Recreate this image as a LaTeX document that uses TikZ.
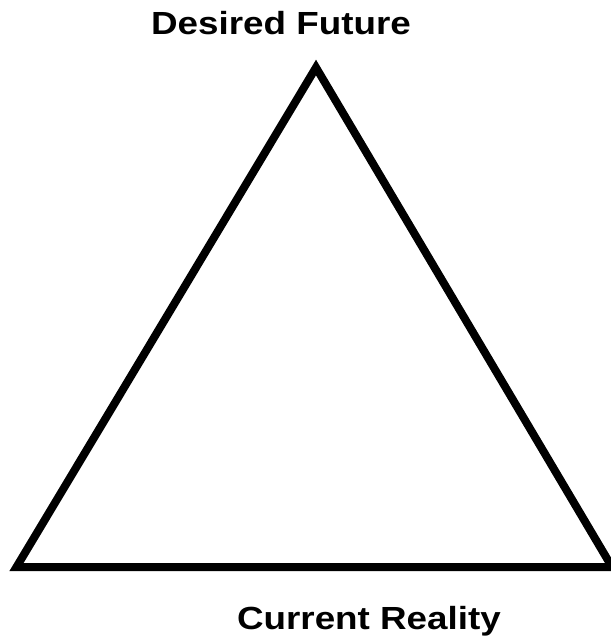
\documentclass[tikz,border=0pt]{standalone}
\usepackage{fontspec}
\setmainfont{Liberation Sans}
\usetikzlibrary{positioning}

\begin{document}
\begin{tikzpicture}[
  x=1pt, y=-1pt,
  lbl/.style={font=\fontsize{32}{38}\selectfont\bfseries, inner sep=0pt,
              anchor=base, xscale=1.15},
  edge/.style={line width=8pt, line join=miter, miter limit=10}
]
\useasboundingbox (0,0) rectangle (611,638);
\coordinate (top)   at (316,67.5);
\coordinate (left)  at (16.5,567);
\coordinate (right) at (612,567);

\node[lbl] (future)  at (281,34)  {Desired Future};
\node[lbl] (reality) at (369,629) {Current Reality};

\draw[edge] (top) -- (right) -- (left) -- cycle;
\end{tikzpicture}
\end{document}
